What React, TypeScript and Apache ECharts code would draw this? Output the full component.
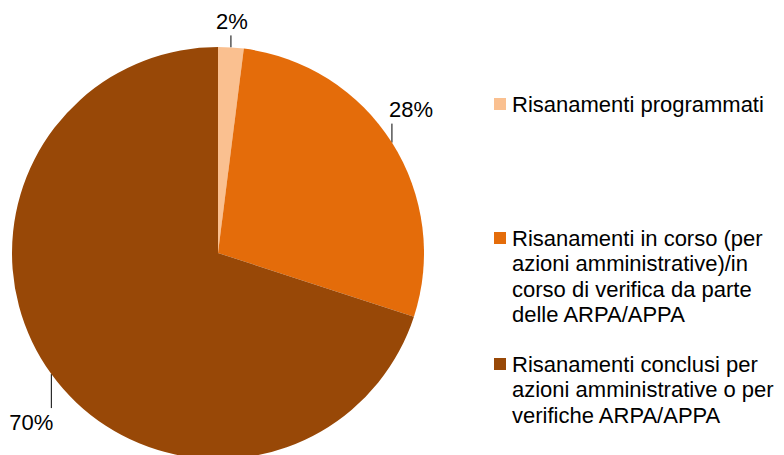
import React, { useEffect, useRef } from "react";
import * as echarts from "echarts";

const categories = [
  "Risanamenti programmati",
  "Risanamenti in corso (per azioni amministrative)/in corso di verifica da parte delle ARPA/APPA",
  "Risanamenti conclusi per azioni amministrative o per verifiche ARPA/APPA",
];
const legendLines = [
  ["Risanamenti programmati"],
  ["Risanamenti in corso (per", "azioni amministrative)/in", "corso di verifica da parte", "delle ARPA/APPA"],
  ["Risanamenti conclusi per", "azioni amministrative o per", "verifiche ARPA/APPA"],
];
const values = [2, 28, 70];
const colors = ["#FAC090", "#E46C0A", "#984807"];
const lineLengths = [12, 19, 34];
const legendCenters = [104, 238, 364];

const FONT = "'Liberation Sans', Arial, sans-serif";

export default function App() {
  const ref = useRef<HTMLDivElement>(null);
  useEffect(() => {
    document.body.style.margin = "0";
    const chart = echarts.init(ref.current!, null, { renderer: "svg" });
    const lh = 25.5;
    const graphic: any[] = [];
    legendLines.forEach((lines, i) => {
      graphic.push({
        type: "rect",
        left: 494,
        top: legendCenters[i] - 6,
        shape: { width: 12, height: 12 },
        style: { fill: colors[i] },
      });
      graphic.push({
        type: "text",
        left: 512,
        top: legendCenters[i] - lh / 2,
        style: {
          text: lines.join("\n"),
          font: `22px ${FONT}`,
          lineHeight: lh,
          fill: "#000",
        },
      });
    });
    chart.setOption({
      animation: false,
      backgroundColor: "#fff",
      graphic,
      series: [
        {
          type: "pie",
          center: [218, 253],
          radius: 206,
          startAngle: 90,
          clockwise: true,
          data: categories.map((name, i) => ({
            name,
            value: values[i],
            itemStyle: { color: colors[i] },
          })),
          label: {
            show: true,
            position: "outside",
            formatter: "{d}%",
            fontFamily: FONT,
            fontSize: 22,
            color: "#000",
            overflow: "none",
            width: 80,
          },
          labelLine: {
            show: true,
            length: 10,
            length2: 0,
            lineStyle: { color: "#000", width: 1 },
          },
          labelLayout: (p: any) => {
            const pts = p.labelLinePoints;
            if (!pts) return {};
            const [x0, y0] = pts[0];
            const len = lineLengths[p.dataIndex];
            const up = y0 < 253;
            const y1 = up ? y0 - len : y0 + len;
            const dx = x0 - 218;
            let align = "center";
            let tx = x0 + 1;
            if (dx > 40) {
              align = "left";
              tx = x0 - 3;
            } else if (dx < -40) {
              align = "right";
              tx = x0 + 2;
            }
            return {
              x: tx,
              y: up ? y1 - 14 : y1 + 14,
              align,
              verticalAlign: "middle",
              labelLinePoints: [
                [x0, y0],
                [x0, y1],
                [x0, y1],
              ],
            };
          },
        },
      ],
    });
    return () => chart.dispose();
  }, []);
  return <div ref={ref} style={{ width: 784, height: 455 }} />;
}
